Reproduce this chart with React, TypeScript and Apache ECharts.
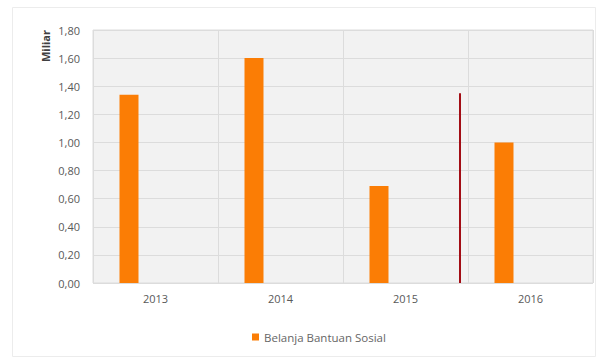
import React, { useEffect, useRef } from "react";
import * as echarts from "echarts";

const categories = ["2013", "2014", "2015", "2016"];
const seriesName = "Belanja Bantuan Sosial";
const values = [1.34, 1.6, 0.69, 1.0];
const markerX = [2.936, 2.936];
const markerY = [0, 1.35];
const yTicks = { min: 0, max: 1.8, interval: 0.2 };

export default function App() {
  const ref = useRef<HTMLDivElement>(null);
  useEffect(() => {
    if (!ref.current) return;
    const chart = echarts.init(ref.current, null, { renderer: "svg" });
    const font = "'Open Sans', 'Noto Sans', sans-serif";
    chart.setOption({
      animation: false,
      backgroundColor: "#ffffff",
      textStyle: { fontFamily: font },
      graphic: [
        {
          type: "rect",
          shape: { x: 12.5, y: 7.5, width: 583, height: 349 },
          style: { fill: "none", stroke: "#ececec", lineWidth: 1 },
          silent: true,
          z: -10,
        },
      ],
      grid: {
        left: 93,
        right: 8,
        top: 30,
        bottom: 77,
        show: true,
        backgroundColor: "#f2f2f2",
        borderColor: "#dcdcdc",
        borderWidth: 1,
      },
      legend: {
        left: 247,
        top: 326,
        icon: "rect",
        itemWidth: 7,
        itemHeight: 7,
        itemGap: 4,
        data: [seriesName],
        textStyle: { color: "#666666", fontSize: 11.5, fontFamily: font },
      },
      xAxis: [
        {
          type: "category",
          data: categories,
          axisLine: { show: false },
          axisTick: { show: false },
          axisLabel: { color: "#595959", fontSize: 11, margin: 10, fontFamily: font },
          splitLine: { show: true, lineStyle: { color: "#dcdcdc", width: 1 } },
        },
        {
          type: "value",
          min: 0,
          max: 4,
          show: false,
          splitLine: { show: false },
        },
      ],
      yAxis: {
        type: "value",
        min: yTicks.min,
        max: yTicks.max,
        interval: yTicks.interval,
        name: "Miliar",
        nameLocation: "end",
        nameRotate: 90,
        nameGap: 0,
        nameTextStyle: {
          color: "#404040",
          fontSize: 11,
          fontWeight: "bold",
          align: "right",
          verticalAlign: "bottom",
          padding: [0, 0, 42, 0],
          fontFamily: font,
        },
        axisLine: { show: false },
        axisTick: { show: false },
        axisLabel: {
          color: "#595959",
          fontSize: 11,
          margin: 13,
          fontFamily: font,
          formatter: (v: number) => v.toFixed(2).replace(".", ","),
        },
        splitLine: { show: true, lineStyle: { color: "#dcdcdc", width: 1 } },
      },
      series: [
        {
          name: seriesName,
          type: "bar",
          data: values,
          barWidth: 19,
          barGap: "179%",
          itemStyle: { color: "#fb7d05" },
        },
        {
          name: "_empty",
          type: "bar",
          data: values.map(() => null),
          barWidth: 19,
          itemStyle: { color: "#fb7d05" },
        },
        {
          name: "_marker",
          type: "line",
          xAxisIndex: 1,
          data: markerX.map((x, i) => [x, markerY[i]]),
          symbol: "none",
          lineStyle: { color: "#a30d15", width: 2 },
          z: 5,
        },
      ],
    });
    return () => chart.dispose();
  }, []);
  return (
    <div
      ref={ref}
      style={{ position: "fixed", left: 0, top: 0, width: 601, height: 360 }}
    />
  );
}
